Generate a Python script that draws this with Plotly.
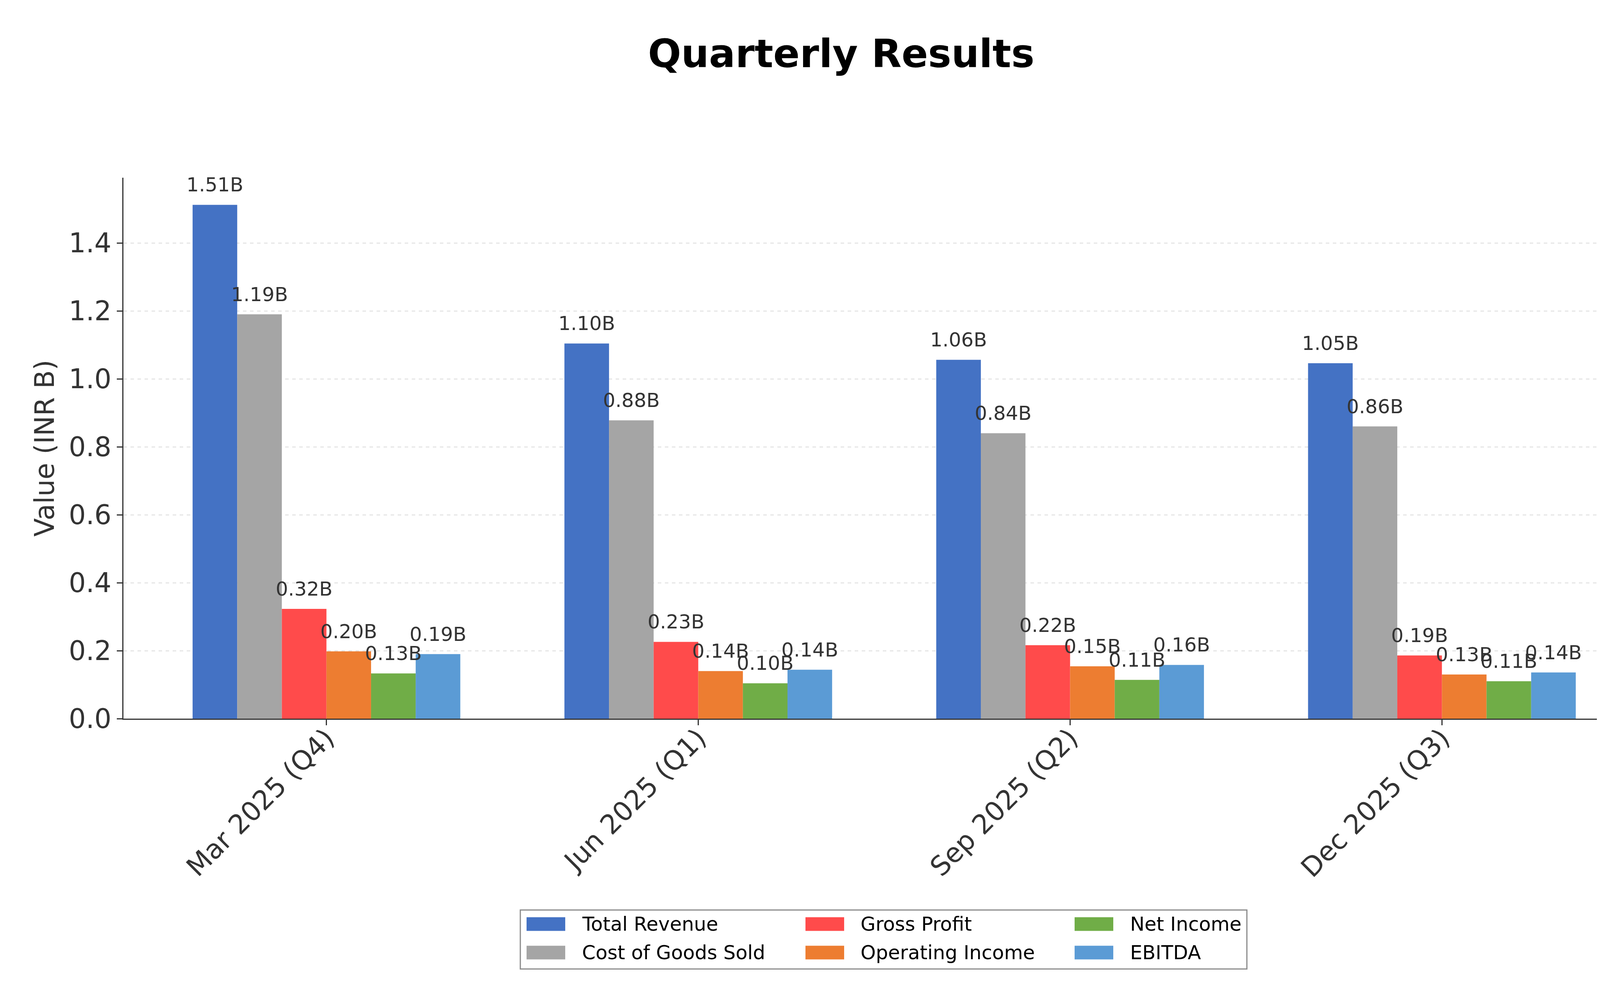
import plotly.graph_objects as go

# quarterly figures in INR billions
quarters = ['Mar 2025 (Q4)', 'Jun 2025 (Q1)', 'Sep 2025 (Q2)', 'Dec 2025 (Q3)']
total_revenue = [1.512, 1.104, 1.056, 1.046]
cost_of_goods = [1.190, 0.878, 0.840, 0.860]
gross_profit = [0.323, 0.226, 0.216, 0.186]
operating_income = [0.198, 0.140, 0.154, 0.130]
net_income = [0.133, 0.104, 0.114, 0.110]
ebitda = [0.190, 0.144, 0.158, 0.136]

series_names = ['Total Revenue', 'Cost of Goods Sold', 'Gross Profit',
                'Operating Income', 'Net Income', 'EBITDA']
series_values = [total_revenue, cost_of_goods, gross_profit,
                 operating_income, net_income, ebitda]
series_colors = ['#4472C4', '#A5A5A5', '#FF4B4B', '#ED7D31', '#70AD47', '#5B9BD5']

W, H = 4291, 2563
ml, mr, mt, mb = 308, 88, 447, 731
pw, ph = W - ml - mr, H - mt - mb

def px_x(x):
    return (x - ml) / pw

def px_y(y):
    return (H - mb - y) / ph

fig = go.Figure()
for name, vals, color in zip(series_names, series_values, series_colors):
    fig.add_trace(go.Bar(
        x=quarters, y=vals, name=name, marker_color=color, marker_line_width=0,
        showlegend=False, hoverinfo='x+y+name',
    ))
# value labels, grouped the same way as the bars
for name, vals in zip(series_names, series_values):
    fig.add_trace(go.Scatter(
        x=quarters, y=vals, mode='markers+text', text=[f'{v:.2f}B' for v in vals],
        textposition='top center', cliponaxis=False, showlegend=False, hoverinfo='skip',
        marker=dict(size=33, opacity=0), name=name,
        textfont=dict(family='DejaVu Sans', size=50, color='#333333'),
    ))

# legend drawn by hand: 3 columns x 2 rows, column-major like the original
col_sym_x = [1340, 2054, 2743]
col_txt_x = [1480, 2193, 2883]
row_y = [2358, 2431]
shapes = [dict(type='rect', xref='paper', yref='paper',
               x0=px_x(1324), x1=px_x(3184), y0=px_y(2473), y1=px_y(2322),
               line=dict(color='#8a8a8a', width=3), fillcolor='white', layer='above')]
annotations = []
for k, (name, color) in enumerate(zip(series_names, series_colors)):
    c, r = k // 2, k % 2
    shapes.append(dict(type='rect', xref='paper', yref='paper',
                       x0=px_x(col_sym_x[c]), x1=px_x(col_sym_x[c] + 99),
                       y0=px_y(row_y[r] + 17.5), y1=px_y(row_y[r] - 17.5),
                       line=dict(width=0), fillcolor=color, layer='above'))
    annotations.append(dict(text=name, xref='paper', yref='paper',
                            x=px_x(col_txt_x[c]), y=px_y(row_y[r]),
                            xanchor='left', yanchor='middle', showarrow=False,
                            font=dict(family='DejaVu Sans', size=49.6, color='#000000')))

fig.update_layout(
    width=W, height=H,
    margin=dict(l=ml, r=mr, t=mt, b=mb),
    paper_bgcolor='white', plot_bgcolor='white',
    barmode='group', bargap=0.28, bargroupgap=0,
    scattermode='group', scattergap=0.28,
    showlegend=False,
    title=dict(text='<b>Quarterly Results</b>', x=0.5, xanchor='center', y=1 - 129 / H, yanchor='middle',
               font=dict(family='DejaVu Sans', size=100, color='#000000')),
    font=dict(family='DejaVu Sans', color='#333333'),
    xaxis=dict(
        range=[-0.546, 3.546], tickangle=-45, tickfont=dict(size=68.75, color='#333333'),
        ticklabelstandoff=-35,
        showline=True, linecolor='#333333', linewidth=3, ticks='outside', ticklen=14,
        tickwidth=3, tickcolor='#333333', showgrid=False, zeroline=False,
    ),
    yaxis=dict(
        range=[0, 1.592], dtick=0.2, tickformat='.1f', tickfont=dict(size=68.75, color='#333333'),
        title=dict(text='Value (INR B)', font=dict(size=68.75, color='#333333'), standoff=15),
        showline=True, linecolor='#333333', linewidth=3, ticks='outside', ticklen=14,
        tickwidth=3, tickcolor='#333333', showgrid=True, gridcolor='#e6e6e6',
        griddash='dash', gridwidth=3, zeroline=False,
    ),
    shapes=shapes,
    annotations=annotations,
)

fig.write_html('out.html')
